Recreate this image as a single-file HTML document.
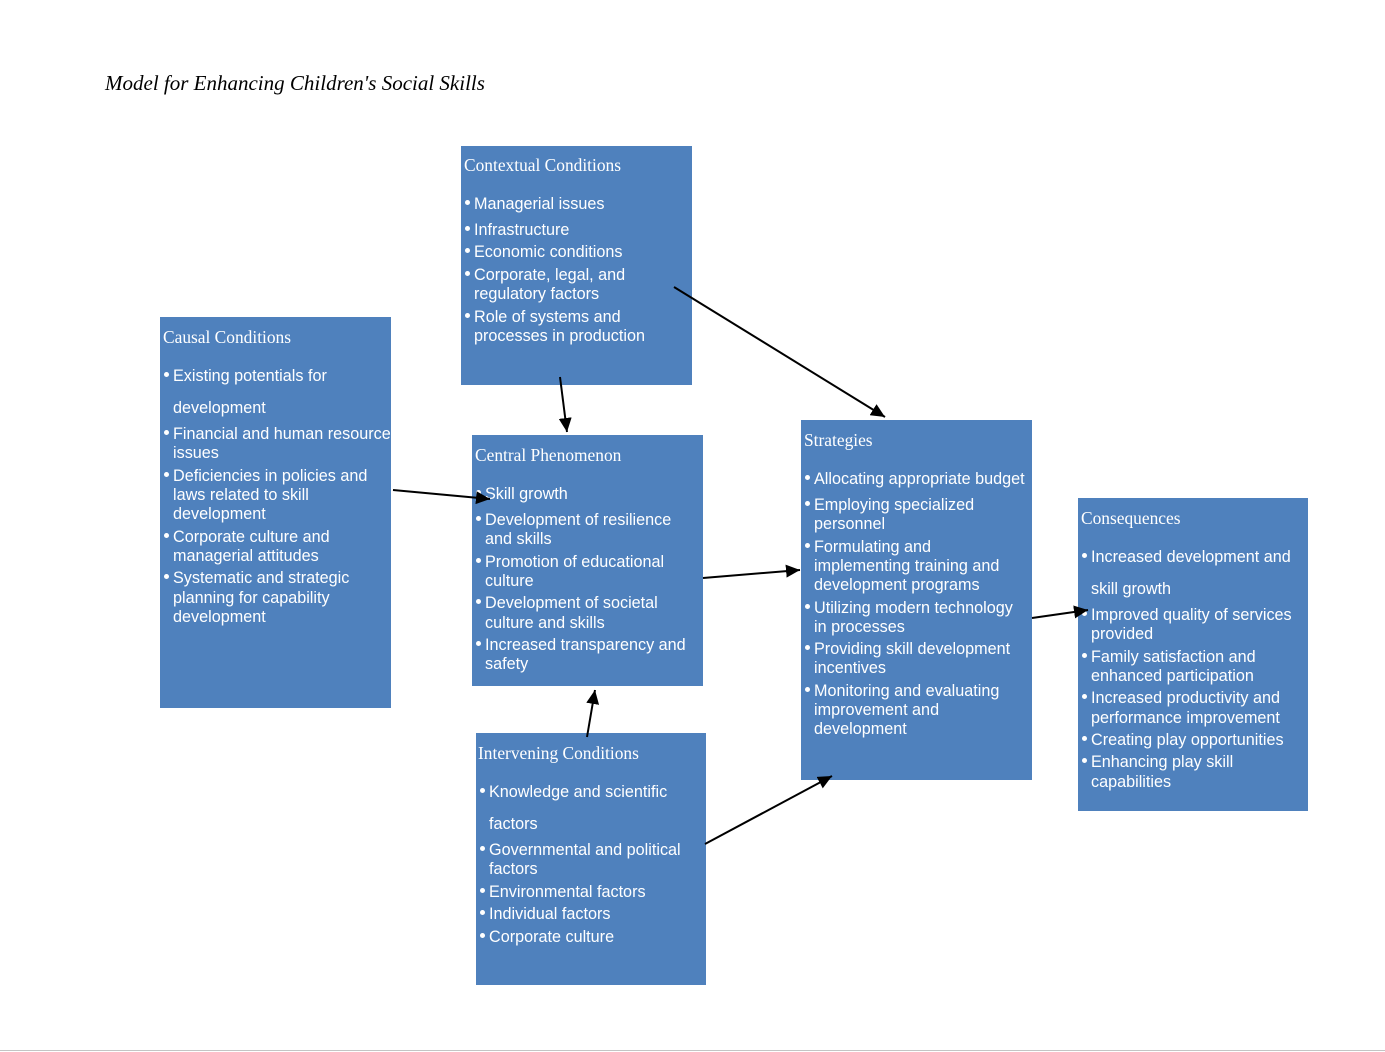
<!DOCTYPE html>
<html>
<head>
<meta charset="utf-8">
<style>
  html,body{margin:0;padding:0;background:#fff;}
  #root{position:relative;width:1385px;height:1052px;overflow:hidden;background:#fff;}
  .box{position:absolute;background:#4F81BD;}
  .t{position:absolute;white-space:nowrap;color:#fff;font-family:"Liberation Sans",Arial,sans-serif;font-size:16.2px;line-height:20px;margin-top:1px;}
  .h{position:absolute;white-space:nowrap;color:#fff;font-family:"Liberation Serif","Times New Roman",serif;font-size:17.4px;line-height:20px;margin-top:0px;}
  .b{position:absolute;width:5px;height:5px;border-radius:50%;background:#fff;font-size:0;color:transparent;margin-top:7px;margin-left:1px;}
  .title{position:absolute;left:105px;top:70px;white-space:nowrap;font-family:"Liberation Serif","Times New Roman",serif;font-style:italic;font-size:21px;color:#000;line-height:26px;}
  svg{position:absolute;left:0;top:0;}
  .hr{position:absolute;left:0;top:1050px;width:1385px;height:1px;background:#c4c4c4;}
</style>
</head>
<body>
<div id="root">
  <div class="title">Model for Enhancing Children's Social Skills</div>

  <!-- Contextual Conditions -->
  <div class="box" style="left:461px;top:146px;width:231px;height:239px;"></div>
  <div class="h" style="left:464px;top:155px;">Contextual Conditions</div>
  <div class="b" style="left:464px;top:193px;">•</div><div class="t" style="left:474px;top:193px;">Managerial issues</div>
  <div class="b" style="left:464px;top:219px;">•</div><div class="t" style="left:474px;top:219px;">Infrastructure</div>
  <div class="b" style="left:464px;top:241px;">•</div><div class="t" style="left:474px;top:241px;">Economic conditions</div>
  <div class="b" style="left:464px;top:264px;">•</div><div class="t" style="left:474px;top:264px;">Corporate, legal, and</div>
  <div class="t" style="left:474px;top:283px;">regulatory factors</div>
  <div class="b" style="left:464px;top:306px;">•</div><div class="t" style="left:474px;top:306px;">Role of systems and</div>
  <div class="t" style="left:474px;top:325px;">processes in production</div>

  <!-- Causal Conditions -->
  <div class="box" style="left:160px;top:317px;width:231px;height:391px;"></div>
  <div class="h" style="left:163px;top:327px;">Causal Conditions</div>
  <div class="b" style="left:163px;top:365px;">•</div><div class="t" style="left:173px;top:365px;">Existing potentials for</div>
  <div class="t" style="left:173px;top:397px;">development</div>
  <div class="b" style="left:163px;top:423px;">•</div><div class="t" style="left:173px;top:423px;">Financial and human resource</div>
  <div class="t" style="left:173px;top:442px;">issues</div>
  <div class="b" style="left:163px;top:465px;">•</div><div class="t" style="left:173px;top:465px;">Deficiencies in policies and</div>
  <div class="t" style="left:173px;top:484px;">laws related to skill</div>
  <div class="t" style="left:173px;top:503px;">development</div>
  <div class="b" style="left:163px;top:526px;">•</div><div class="t" style="left:173px;top:526px;">Corporate culture and</div>
  <div class="t" style="left:173px;top:545px;">managerial attitudes</div>
  <div class="b" style="left:163px;top:567px;">•</div><div class="t" style="left:173px;top:567px;">Systematic and strategic</div>
  <div class="t" style="left:173px;top:587px;">planning for capability</div>
  <div class="t" style="left:173px;top:606px;">development</div>

  <!-- Central Phenomenon -->
  <div class="box" style="left:472px;top:435px;width:231px;height:251px;"></div>
  <div class="h" style="left:475px;top:445px;">Central Phenomenon</div>
  <div class="b" style="left:475px;top:483px;">•</div><div class="t" style="left:485px;top:483px;">Skill growth</div>
  <div class="b" style="left:475px;top:509px;">•</div><div class="t" style="left:485px;top:509px;">Development of resilience</div>
  <div class="t" style="left:485px;top:528px;">and skills</div>
  <div class="b" style="left:475px;top:551px;">•</div><div class="t" style="left:485px;top:551px;">Promotion of educational</div>
  <div class="t" style="left:485px;top:570px;">culture</div>
  <div class="b" style="left:475px;top:592px;">•</div><div class="t" style="left:485px;top:592px;">Development of societal</div>
  <div class="t" style="left:485px;top:612px;">culture and skills</div>
  <div class="b" style="left:475px;top:634px;">•</div><div class="t" style="left:485px;top:634px;">Increased transparency and</div>
  <div class="t" style="left:485px;top:653px;">safety</div>

  <!-- Intervening Conditions -->
  <div class="box" style="left:476px;top:733px;width:230px;height:252px;"></div>
  <div class="h" style="left:478px;top:743px;">Intervening Conditions</div>
  <div class="b" style="left:479px;top:781px;">•</div><div class="t" style="left:489px;top:781px;">Knowledge and scientific</div>
  <div class="t" style="left:489px;top:813px;">factors</div>
  <div class="b" style="left:479px;top:839px;">•</div><div class="t" style="left:489px;top:839px;">Governmental and political</div>
  <div class="t" style="left:489px;top:858px;">factors</div>
  <div class="b" style="left:479px;top:881px;">•</div><div class="t" style="left:489px;top:881px;">Environmental factors</div>
  <div class="b" style="left:479px;top:903px;">•</div><div class="t" style="left:489px;top:903px;">Individual factors</div>
  <div class="b" style="left:479px;top:926px;">•</div><div class="t" style="left:489px;top:926px;">Corporate culture</div>

  <!-- Strategies -->
  <div class="box" style="left:801px;top:420px;width:231px;height:360px;"></div>
  <div class="h" style="left:804px;top:430px;">Strategies</div>
  <div class="b" style="left:804px;top:468px;">•</div><div class="t" style="left:814px;top:468px;">Allocating appropriate budget</div>
  <div class="b" style="left:804px;top:494px;">•</div><div class="t" style="left:814px;top:494px;">Employing specialized</div>
  <div class="t" style="left:814px;top:513px;">personnel</div>
  <div class="b" style="left:804px;top:536px;">•</div><div class="t" style="left:814px;top:536px;">Formulating and</div>
  <div class="t" style="left:814px;top:555px;">implementing training and</div>
  <div class="t" style="left:814px;top:574px;">development programs</div>
  <div class="b" style="left:804px;top:597px;">•</div><div class="t" style="left:814px;top:597px;">Utilizing modern technology</div>
  <div class="t" style="left:814px;top:616px;">in processes</div>
  <div class="b" style="left:804px;top:638px;">•</div><div class="t" style="left:814px;top:638px;">Providing skill development</div>
  <div class="t" style="left:814px;top:657px;">incentives</div>
  <div class="b" style="left:804px;top:680px;">•</div><div class="t" style="left:814px;top:680px;">Monitoring and evaluating</div>
  <div class="t" style="left:814px;top:699px;">improvement and</div>
  <div class="t" style="left:814px;top:718px;">development</div>

  <!-- Consequences -->
  <div class="box" style="left:1078px;top:498px;width:230px;height:313px;"></div>
  <div class="h" style="left:1081px;top:508px;">Consequences</div>
  <div class="b" style="left:1081px;top:546px;">•</div><div class="t" style="left:1091px;top:546px;">Increased development and</div>
  <div class="t" style="left:1091px;top:578px;">skill growth</div>
  <div class="b" style="left:1081px;top:604px;">•</div><div class="t" style="left:1091px;top:604px;">Improved quality of services</div>
  <div class="t" style="left:1091px;top:623px;">provided</div>
  <div class="b" style="left:1081px;top:646px;">•</div><div class="t" style="left:1091px;top:646px;">Family satisfaction and</div>
  <div class="t" style="left:1091px;top:665px;">enhanced participation</div>
  <div class="b" style="left:1081px;top:687px;">•</div><div class="t" style="left:1091px;top:687px;">Increased productivity and</div>
  <div class="t" style="left:1091px;top:707px;">performance improvement</div>
  <div class="b" style="left:1081px;top:729px;">•</div><div class="t" style="left:1091px;top:729px;">Creating play opportunities</div>
  <div class="b" style="left:1081px;top:751px;">•</div><div class="t" style="left:1091px;top:751px;">Enhancing play skill</div>
  <div class="t" style="left:1091px;top:771px;">capabilities</div>

  <svg width="1385" height="1052" viewBox="0 0 1385 1052">
    <defs>
      <marker id="ah" markerUnits="userSpaceOnUse" markerWidth="15" markerHeight="13" refX="14" refY="6.5" orient="auto">
        <path d="M0,0 L14,6.5 L0,13 z" fill="#000"/>
      </marker>
    </defs>
    <g stroke="#000" stroke-width="2" fill="none" marker-end="url(#ah)">
      <line x1="674" y1="287" x2="885" y2="417"/>
      <line x1="560" y1="377" x2="567" y2="432"/>
      <line x1="393" y1="490" x2="490" y2="499"/>
      <line x1="703" y1="578" x2="800" y2="570"/>
      <line x1="587" y1="737" x2="595" y2="690"/>
      <line x1="705" y1="844" x2="832" y2="776"/>
      <line x1="1032" y1="618" x2="1088" y2="610"/>
    </g>
  </svg>

  <div class="hr"></div>
</div>
</body>
</html>
